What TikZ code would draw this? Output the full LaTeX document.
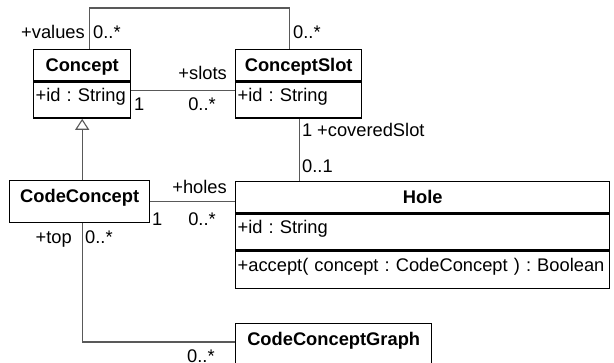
\documentclass[tikz,border=0pt]{standalone}
\usepackage{fontspec}
\setmainfont{Liberation Sans}
\usetikzlibrary{arrows.meta}
\newcommand{\fs}{\fontsize{18.3}{22}\selectfont\frenchspacing}

\begin{document}
\begin{tikzpicture}[x=1pt,y=-1pt,
  clshead/.style={draw=black, line width=1.4pt, fill=white, anchor=north west, inner xsep=2pt, inner ysep=2pt, font=\fs\bfseries, text height=20pt, text depth=7pt},
  clsbox/.style={clshead, text height=19.5pt, text depth=18.5pt},
  clsattr/.style={draw=black, line width=1.4pt, fill=white, anchor=north, inner xsep=2pt, inner ysep=2pt, font=\fs, align=left, text width=#1, text height=17pt, text depth=15pt},
  clsops/.style={clsattr=#1, text height=18pt, text depth=15pt},
  assoc/.style={draw=black!65, line width=1.1pt},
  lbl/.style={inner sep=0pt, font=\fs}]
\def\tl{11pt}
\def\tw{14pt}
\clip (0,0) rectangle (614,362);
\useasboundingbox (0,0) rectangle (614,362);
% classes
\node [clshead, minimum width=97pt, name=concept]      at (33,49)  {Concept};
\node [clsattr=93pt, name=conceptattr]                  at (concept.south) {+id : String};
\node [clshead, minimum width=126pt, name=slot]         at (235,49) {ConceptSlot};
\node [clsattr=122pt, name=slotattr]                    at (slot.south) {+id : String};
\node [clsbox, minimum width=140pt, name=codeconcept]   at (9,180)  {CodeConcept};
\node [clshead, minimum width=374pt, name=hole]         at (235,181) {Hole};
\node [clsattr=370pt, name=holeattr]                    at (hole.south) {+id : String};
\node [clsops=370pt, name=holeops]                      at (holeattr.south) {+accept( concept : CodeConcept ) : Boolean};
\node [clsbox, minimum width=196pt, name=graph]         at (235,323) {CodeConceptGraph};
% associations
\draw [assoc] ([xshift=7.5pt]concept.north) |- ([xshift=-9pt, yshift=41pt]slot.north) -- ([xshift=-9pt]slot.north);
\draw [assoc] ([yshift=-9pt]conceptattr.north east) -- ([yshift=-9pt]slotattr.north west);
\draw [assoc] ([xshift=1pt]slotattr.south) -- ([xshift=1pt]slotattr.south |- hole.north);
\draw [assoc] (codeconcept.east) -- (codeconcept.east -| hole.west);
\draw [assoc] (codeconcept.south -| conceptattr.south) |- ([yshift=-19pt]graph.north west);
\draw [assoc, -{Triangle[open, length=\tl, width=\tw]}] (codeconcept.north -| conceptattr.south) -- (conceptattr.south);
% ends
\node [lbl, anchor=base east, name=lvalues]   at (85,38)  {+values};
\node [lbl, anchor=base west, name=mvalues]   at (93,38)  {0..*};
\node [lbl, anchor=base west, name=mslotsup]  at (293,38) {0..*};
\node [lbl, anchor=base east, name=lslots]    at (227,79) {+slots};
\node [lbl, anchor=base west, name=mconcept]  at (134,110) {1};
\node [lbl, anchor=base, name=mslots]         at (202,110) {0..*};
\node [lbl, anchor=base west, name=mcovered]  at (302,136) {1};
\node [lbl, anchor=base west, name=lcovered]  at (317,136) {+coveredSlot};
\node [lbl, anchor=base west, name=mhole]     at (302,172) {0..1};
\node [lbl, anchor=base east, name=lholes]    at (227,193) {+holes};
\node [lbl, anchor=base west, name=mcode]     at (152,225) {1};
\node [lbl, anchor=base, name=mholes]         at (202,225) {0..*};
\node [lbl, anchor=base east, name=ltop]      at (72,243) {+top};
\node [lbl, anchor=base west, name=mtop]      at (85,243) {0..*};
\node [lbl, anchor=base west, name=mgraph]    at (187,362) {0..*};
\end{tikzpicture}
\end{document}
